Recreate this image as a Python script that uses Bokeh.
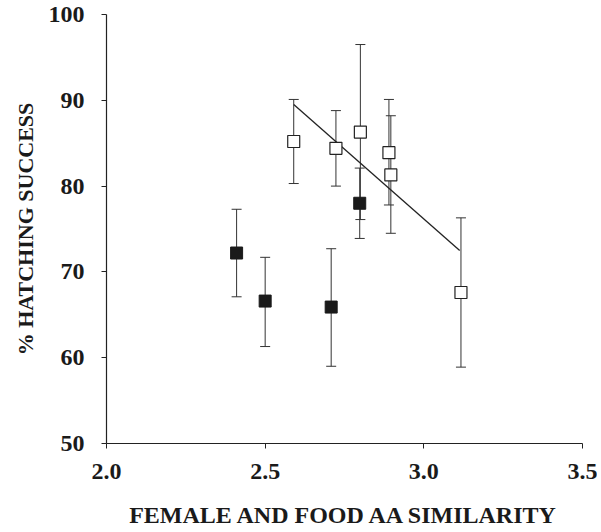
from bokeh.plotting import figure
from bokeh.models import ColumnDataSource, Whisker, TeeHead, Range1d, FixedTicker, PrintfTickFormatter
from bokeh.embed import file_html
from bokeh.resources import INLINE

# Filled squares (group 1)
filled_x = [2.41, 2.50, 2.708, 2.798]
filled_y = [72.2, 66.6, 65.9, 78.0]
filled_lo = [67.1, 61.3, 59.0, 73.9]
filled_hi = [77.3, 71.7, 72.7, 82.1]

# Open squares (group 2)
open_x = [2.59, 2.723, 2.80, 2.89, 2.896, 3.117]
open_y = [85.2, 84.4, 86.3, 83.9, 81.3, 67.6]
open_lo = [80.3, 80.0, 76.1, 77.8, 74.5, 58.9]
open_hi = [90.1, 88.8, 96.5, 90.1, 88.2, 76.3]

# Regression line through open squares
fit_x = [2.59, 3.113]
fit_y = [89.5, 72.5]

x_ticks = [2.0, 2.5, 3.0, 3.5]
y_ticks = [50, 60, 70, 80, 90, 100]

FONT = "Liberation Serif"

p = figure(output_backend="svg", toolbar_location=None,
           frame_width=476, frame_height=429,
           min_border_left=106, min_border_right=15, min_border_top=14, min_border_bottom=80,
           x_range=Range1d(2.0, 3.5), y_range=Range1d(50, 100))
p.outline_line_color = None
p.grid.visible = False
p.background_fill_color = "white"
p.border_fill_color = "white"

fsrc = ColumnDataSource(dict(x=filled_x, y=filled_y, lo=filled_lo, hi=filled_hi))
osrc = ColumnDataSource(dict(x=open_x, y=open_y, lo=open_lo, hi=open_hi))

for src in (fsrc, osrc):
    w = Whisker(source=src, base="x", lower="lo", upper="hi", dimension="height",
                line_color="#333333", line_width=1, level="underlay",
                upper_head=TeeHead(size=10, line_color="#333333", line_width=1),
                lower_head=TeeHead(size=10, line_color="#333333", line_width=1))
    p.add_layout(w)

p.line(fit_x, fit_y, line_color="#222222", line_width=1.3)

p.scatter("x", "y", source=fsrc, marker="square", size=12,
          fill_color="#1a1a1a", line_color="#1a1a1a", line_width=1)
p.scatter("x", "y", source=osrc, marker="square", size=12,
          fill_color="white", line_color="#222222", line_width=1.2)

for ax in (p.xaxis[0], p.yaxis[0]):
    ax.axis_line_color = "#222222"
    ax.axis_line_width = 1.2
    ax.major_tick_line_color = "#222222"
    ax.major_tick_out = 5
    ax.major_tick_in = 0
    ax.minor_tick_line_color = None
    ax.major_label_text_font = FONT
    ax.major_label_text_font_style = "bold"
    ax.major_label_text_font_size = "24px"
    ax.major_label_text_color = "#1a1a1a"
    ax.axis_label_text_font = FONT
    ax.axis_label_text_font_style = "bold"
    ax.axis_label_text_color = "#1a1a1a"

p.yaxis.major_label_standoff = 17
p.xaxis.major_label_standoff = 15
p.xaxis.ticker = FixedTicker(ticks=x_ticks)
p.xaxis.formatter = PrintfTickFormatter(format="%.1f")
p.yaxis.ticker = FixedTicker(ticks=y_ticks)
p.xaxis.axis_label = "FEMALE AND FOOD AA SIMILARITY"
p.yaxis.axis_label = "% HATCHING SUCCESS"
p.xaxis.axis_label_text_font_size = "24px"
p.yaxis.axis_label_text_font_size = "22px"
p.xaxis.axis_label_standoff = 20
p.yaxis.axis_label_standoff = 8

open("out.html", "w").write(file_html(p, INLINE))
